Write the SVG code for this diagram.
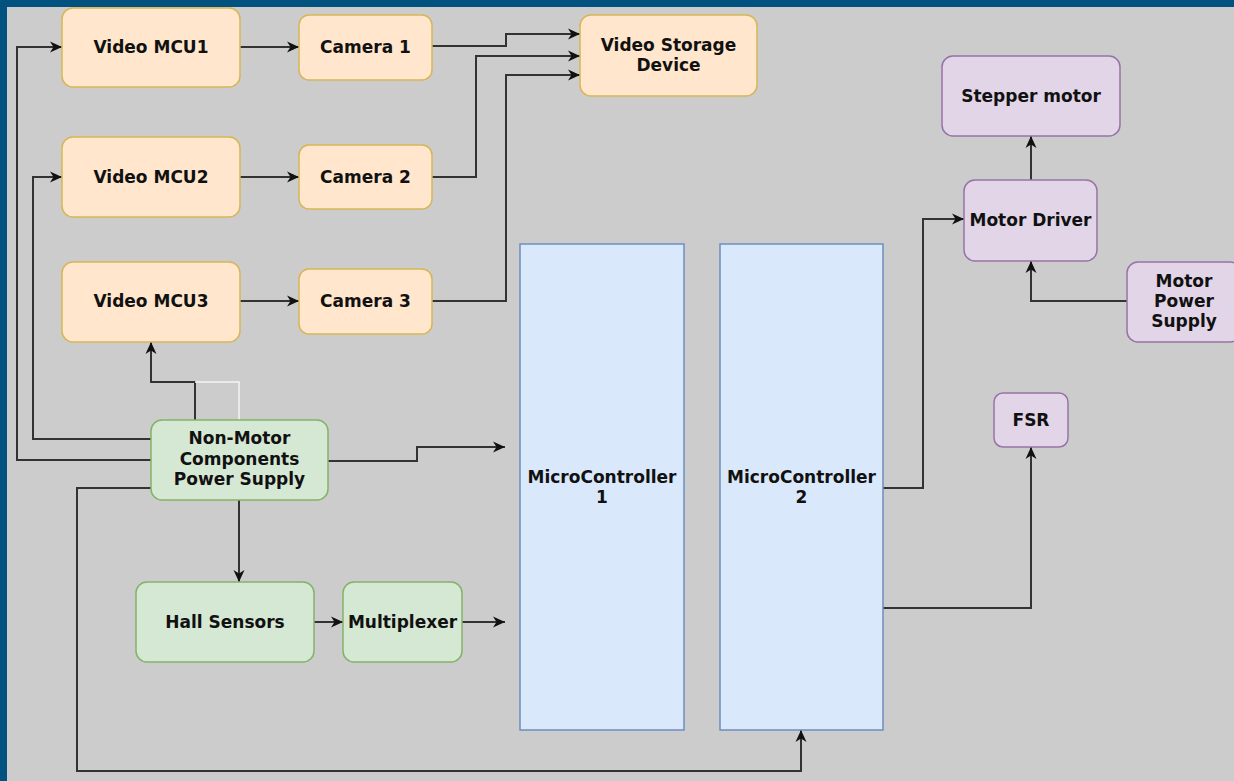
<svg xmlns="http://www.w3.org/2000/svg" width="1234" height="781" viewBox="0 0 1234 781">
<style>
.n rect{stroke-width:1.5}
.o rect{fill:#FFE6CC;stroke:#D6B656}
.g rect{fill:#D5E8D4;stroke:#82B366}
.b rect{fill:#DAE8FC;stroke:#6C8EBF}
.p rect{fill:#E1D5E7;stroke:#9673A6}
text{font-family:"DejaVu Sans","Verdana",sans-serif;font-weight:bold;font-size:17px;fill:#111;text-anchor:middle}
.c path{fill:none;stroke:#333;stroke-width:2}
</style>
<defs>
<marker id="a" markerUnits="userSpaceOnUse" markerWidth="14" markerHeight="12" refX="12" refY="6" orient="auto">
<path d="M0,0.5 L12,6 L0,11.5 L3.5,6 z" fill="#111"/>
</marker>
</defs>
<rect x="0" y="0" width="1234" height="781" fill="#02527F"/>
<rect x="7" y="7" width="1227" height="774" fill="#CCCCCC"/>

<g class="c" id="connectors">
<path d="M240,47 H299" marker-end="url(#a)"/>
<path d="M240,177 H299" marker-end="url(#a)"/>
<path d="M240,301 H299" marker-end="url(#a)"/>
<path d="M432,46 H506 V34 H580" marker-end="url(#a)"/>
<path d="M432,177 H476 V56 H580" marker-end="url(#a)"/>
<path d="M432,301 H506 V75 H580" marker-end="url(#a)"/>
<path d="M151,460 H17 V47 H62" marker-end="url(#a)"/>
<path d="M151,439 H33 V177 H62" marker-end="url(#a)"/>
<path d="M195,420 V382 H151 V342" marker-end="url(#a)"/>
<path d="M239,420 V382 H195" style="stroke:#f4f4f4;stroke-width:1.5"/>
<path d="M328,461 H417 V447 H505" marker-end="url(#a)"/>
<path d="M239,500 V582" marker-end="url(#a)"/>
<path d="M151,488 H77 V771 H801 V730" marker-end="url(#a)"/>
<path d="M314,622 H343" marker-end="url(#a)"/>
<path d="M462,622 H505" marker-end="url(#a)"/>
<path d="M883,488 H923 V219 H964" marker-end="url(#a)"/>
<path d="M883,608 H1031 V447" marker-end="url(#a)"/>
<path d="M1031,180 V136" marker-end="url(#a)"/>
<path d="M1127,301 H1031 V261" marker-end="url(#a)"/>
</g>

<g id="video-mcu1" class="n o"><rect x="62" y="8" width="178" height="79" rx="11"/><text x="151" y="53">Video MCU1</text></g>
<g id="camera1" class="n o"><rect x="299" y="15" width="133" height="65" rx="10"/><text x="365.5" y="53">Camera 1</text></g>
<g id="video-storage" class="n o"><rect x="580" y="15" width="177" height="81" rx="11"/><text x="668.5" y="51">Video Storage</text><text x="668.5" y="71">Device</text></g>
<g id="video-mcu2" class="n o"><rect x="62" y="137" width="178" height="80" rx="11"/><text x="151" y="183">Video MCU2</text></g>
<g id="camera2" class="n o"><rect x="299" y="145" width="133" height="64" rx="10"/><text x="365.5" y="183">Camera 2</text></g>
<g id="video-mcu3" class="n o"><rect x="62" y="262" width="178" height="80" rx="11"/><text x="151" y="307">Video MCU3</text></g>
<g id="camera3" class="n o"><rect x="299" y="269" width="133" height="65" rx="10"/><text x="365.5" y="307">Camera 3</text></g>

<g id="stepper-motor" class="n p"><rect x="942" y="56" width="178" height="80" rx="11"/><text x="1031" y="102">Stepper motor</text></g>
<g id="motor-driver" class="n p"><rect x="964" y="180" width="133" height="81" rx="11"/><text x="1030.5" y="226">Motor Driver</text></g>
<g id="motor-power" class="n p"><rect x="1127" y="262" width="114" height="80" rx="11"/><text x="1184" y="287">Motor</text><text x="1184" y="307">Power</text><text x="1184" y="327">Supply</text></g>
<g id="fsr" class="n p"><rect x="994" y="393" width="74" height="54" rx="9"/><text x="1031" y="426">FSR</text></g>

<g id="microcontroller1" class="n b"><rect x="520" y="244" width="164" height="486"/><text x="602" y="483">MicroController</text><text x="602" y="503">1</text></g>
<g id="microcontroller2" class="n b"><rect x="720" y="244" width="163" height="486"/><text x="801.5" y="483">MicroController</text><text x="801.5" y="503">2</text></g>

<g id="power-supply" class="n g"><rect x="151" y="420" width="177" height="80" rx="11"/><text x="239.5" y="444">Non-Motor</text><text x="239.5" y="465">Components</text><text x="239.5" y="485">Power Supply</text></g>
<g id="hall-sensors" class="n g"><rect x="136" y="582" width="178" height="80" rx="11"/><text x="225" y="628">Hall Sensors</text></g>
<g id="multiplexer" class="n g"><rect x="343" y="582" width="119" height="80" rx="11"/><text x="402.5" y="628">Multiplexer</text></g>
</svg>
